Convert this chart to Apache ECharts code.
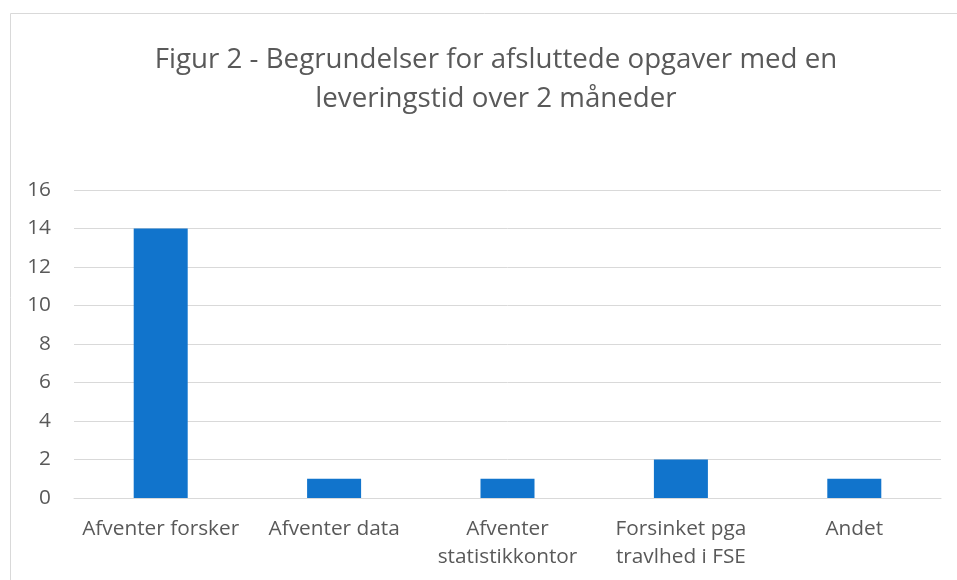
<!DOCTYPE html>
<html><head><meta charset="utf-8">
<script src="https://cdn.jsdelivr.net/npm/echarts@6/dist/echarts.min.js"></script>
<style>html,body{margin:0;padding:0;background:#fff;}#c{width:957px;height:580px;}</style>
</head><body><div id="c"></div>
<script>
const categories = ['Afventer forsker', 'Afventer data', 'Afventer\nstatistikkontor', 'Forsinket pga\ntravlhed i FSE', 'Andet'];
const values = [14, 1, 1, 2, 1];
const yTicks = [0, 2, 4, 6, 8, 10, 12, 14, 16];
const titleText = 'Figur 2 - Begrundelser for afsluttede opgaver med en\nleveringstid over 2 måneder';

const chart = echarts.init(document.getElementById('c'));
const font = '"Open Sans", "Noto Sans", sans-serif';
chart.setOption({
  animation: false,
  graphic: [{
    type: 'rect', shape: {x: 10.5, y: 13.5, width: 980, height: 600},
    style: {fill: 'none', stroke: '#d9d9d9', lineWidth: 1}, silent: true, z: -1
  }],
  title: {
    text: titleText, left: 491, textAlign: 'center', top: 36,
    textStyle: {fontFamily: font, fontSize: 27.7, fontWeight: 'normal', color: '#595959', lineHeight: 39}
  },
  grid: {left: 74, right: 16, top: 190, bottom: 82, containLabel: false},
  xAxis: {
    type: 'category', data: categories,
    axisLine: {lineStyle: {color: '#d9d9d9', width: 1}},
    axisTick: {show: false},
    axisLabel: {fontFamily: font, fontSize: 20.8, color: '#595959', lineHeight: 28, margin: 17, interval: 0}
  },
  yAxis: {
    type: 'value', min: yTicks[0], max: yTicks[yTicks.length - 1], interval: 2,
    axisLine: {show: false}, axisTick: {show: false},
    splitLine: {lineStyle: {color: '#d9d9d9', width: 1}},
    axisLabel: {fontFamily: font, fontSize: 20.8, color: '#595959', margin: 23}
  },
  series: [{
    type: 'bar', data: values, barWidth: 54,
    itemStyle: {color: '#1174CC'}
  }]
});
</script></body></html>
